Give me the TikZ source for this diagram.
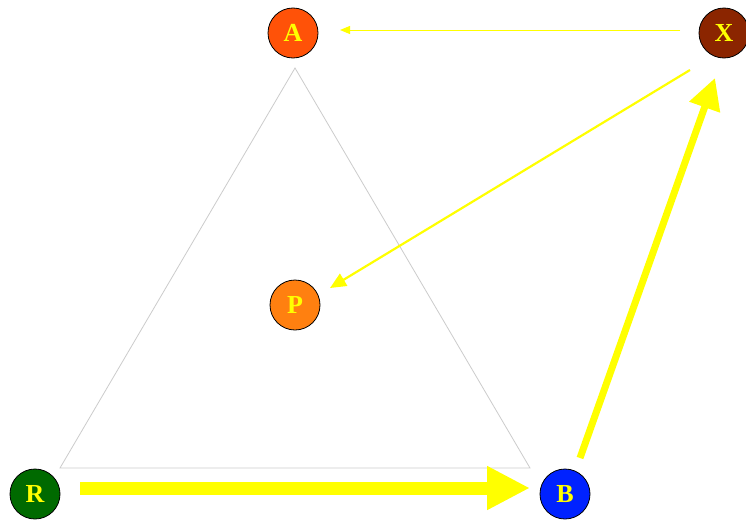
\documentclass[tikz,border=0pt]{standalone}
\usepackage{fontspec}
\setmainfont{Liberation Serif}
\usetikzlibrary{arrows.meta,calc}
\definecolor{cA}{HTML}{FF5208}
\definecolor{cX}{HTML}{8B2500}
\definecolor{cR}{HTML}{006A00}
\definecolor{cB}{HTML}{0022FF}
\definecolor{cP}{HTML}{FF8010}
\definecolor{ylw}{HTML}{FFFF00}
\definecolor{tri}{HTML}{CCCCCC}
\tikzset{
  ball/.style={circle,draw=black,line width=0.8pt,minimum size=50pt,inner sep=0pt,
    text=ylw,font=\fontsize{26}{26}\selectfont\bfseries},
  conn/.style={draw=ylw,line cap=butt}
}
\begin{document}
\begin{tikzpicture}[x=1pt,y=-1pt]
\useasboundingbox[fill=white] (0,0) rectangle (746,522);
\coordinate (T1) at (295,68);
\coordinate (T2) at (60,468);
\coordinate (T3) at (530,468);
\draw[tri,line width=0.8pt] (T1) -- (T2) -- (T3) -- cycle;
\node[ball,fill=cA] (A) at (293,33) {A};
\node[ball,fill=cX] (X) at (724,33) {X};
\node[ball,fill=cR] (R) at (35,494) {R};
\node[ball,fill=cB] (B) at (565,494) {B};
\node[ball,fill=cP] (P) at (295,305) {P};
\draw[conn,line width=1pt,-{Triangle[length=10pt,width=8pt]}] ($(X)+(-44,-3)$) -- ($(A)+(47,-3)$);
\draw[conn,line width=2.2pt,-{Triangle[length=16pt,width=14pt]}] ($(X)+(-34,37)$) -- ($(P)+(35,-17)$);
\draw[conn,line width=7pt,-{Triangle[length=31pt,width=31pt]}] ($(B)+(15,-36)$) -- ($(X)+(-9,45)$);
\draw[conn,line width=13pt,-{Triangle[length=43pt,width=41pt]}] ($(R)+(45,-6)$) -- ($(B)+(-35,-6)$);
\end{tikzpicture}
\end{document}
